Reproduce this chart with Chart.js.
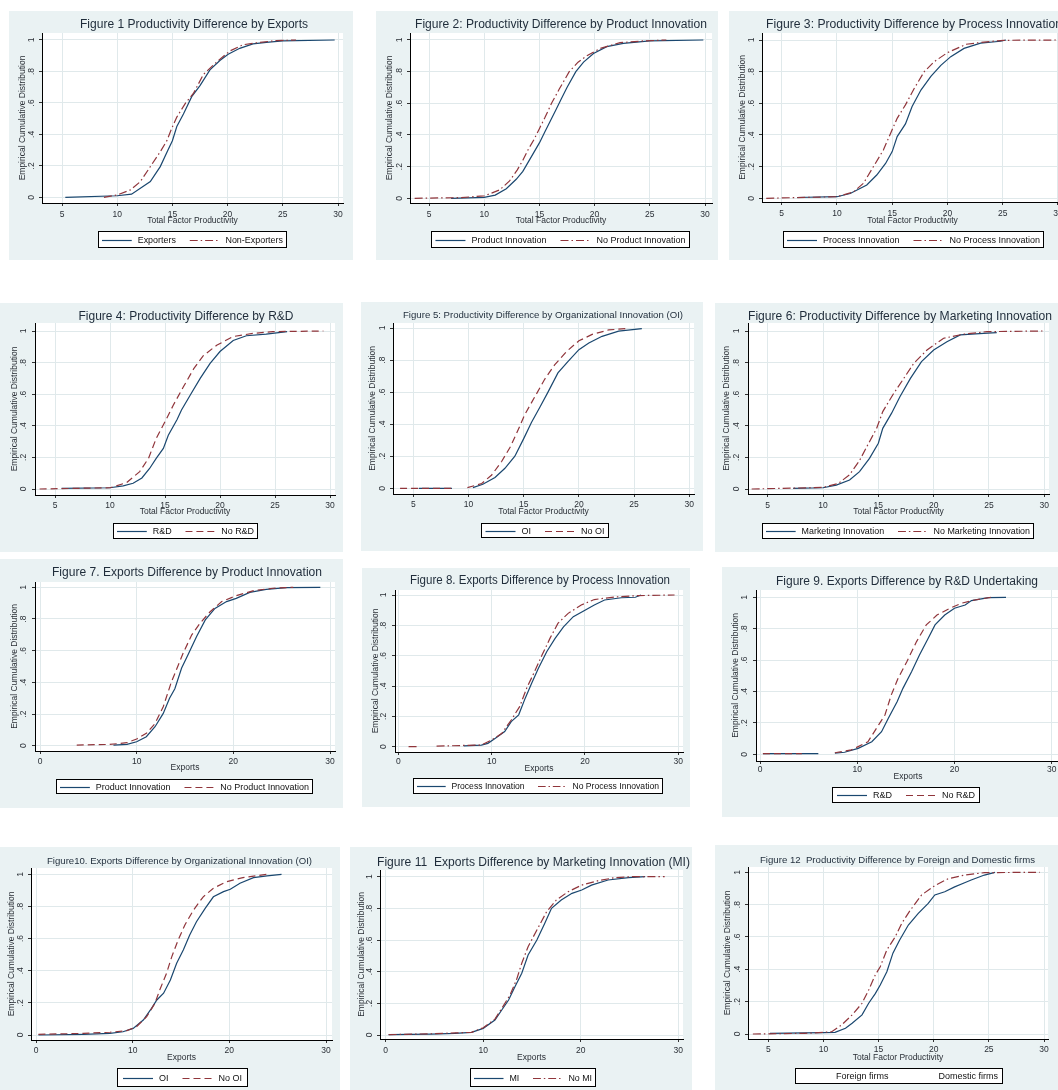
<!DOCTYPE html>
<html>
<head>
<meta charset="utf-8">
<script src="https://cdn.jsdelivr.net/npm/chart.js@4.4.1/dist/chart.umd.min.js"></script>
<style>
  html, body { margin: 0; padding: 0; background: #fff; width: 1058px; height: 1090px; overflow: hidden; position: relative; }
  .panel { position: absolute; background: #eaf2f3; }
  .panel canvas { display: block; }
</style>
</head>
<body>
<script>
// ── Empirical CDF curves as [x, F(x)] points ──
// a null F marks a visible break in a line
const fig1Exporters = [[5.3,0],[10,0.01],[11.3,0.02],[13,0.10],[13.9,0.195],[14.6,0.30],[15,0.36],[15.4,0.45],[16,0.53],[16.75,0.64],[17.5,0.71],[18.4,0.81],[19.3,0.87],[20.05,0.91],[21.1,0.947],[22.3,0.975],[23.5,0.985],[25,0.994],[29.7,1]];
const fig1NonExporters = [[8.8,0],[10,0.015],[11.2,0.047],[12.1,0.10],[13,0.195],[13.9,0.29],[14.5,0.36],[14.95,0.44],[15.4,0.51],[16.2,0.60],[16.9,0.66],[17.8,0.78],[19,0.86],[20.2,0.93],[21.4,0.97],[22.9,0.985],[24.4,0.996],[26.2,1]];

const fig2Product = [[7.0,0],[10,0.006],[11,0.02],[12,0.06],[12.9,0.12],[13.5,0.17],[14.0,0.23],[14.5,0.29],[15.0,0.35],[15.5,0.42],[16.0,0.49],[16.5,0.56],[17.0,0.63],[17.5,0.70],[18.3,0.80],[19.0,0.86],[19.9,0.915],[21.1,0.958],[22.6,0.979],[25,0.994],[29.85,1]];
const fig2NoProduct = [[3.7,0],[7.8,0.004],[10,0.015],[11.4,0.053],[12.3,0.11],[13.0,0.18],[13.5,0.24],[14.0,0.31],[14.5,0.37],[15.0,0.44],[15.5,0.51],[16.1,0.60],[16.8,0.69],[17.7,0.80],[18.5,0.86],[19.3,0.90],[20.5,0.947],[22.3,0.983],[24.4,0.994],[26.5,1]];

const fig3Process = [[6.4,0.005],[10,0.01],[11.2,0.03],[12.7,0.084],[13.6,0.147],[14.4,0.22],[15,0.295],[15.45,0.39],[16.2,0.47],[16.8,0.58],[17.6,0.684],[18.5,0.77],[19.4,0.84],[20.3,0.895],[21.5,0.947],[23,0.98],[24.8,0.992],[25.3,1]];
const fig3NoProcess = [[3.6,0],[10,0.01],[11.5,0.04],[12.4,0.095],[13.3,0.2],[14.2,0.305],[14.85,0.41],[15.45,0.505],[16.2,0.59],[17,0.695],[17.9,0.8],[18.8,0.863],[20,0.92],[21.7,0.973],[23.3,0.987],[25.1,0.998],[30,1]];

const fig4RD = [[5.6,0.004],[10,0.008],[11.2,0.02],[12.1,0.036],[12.9,0.07],[13.6,0.13],[14.2,0.194],[14.85,0.257],[15.3,0.34],[16.1,0.44],[16.5,0.5],[17.3,0.595],[18.2,0.70],[19.1,0.795],[20,0.87],[21.2,0.94],[22.4,0.97],[24.2,0.98],[26.1,0.996]];
const fig4NoRD = [[3.6,0],[10,0.008],[11.5,0.04],[12.7,0.11],[13.5,0.194],[14.2,0.32],[15,0.426],[15.75,0.53],[16.7,0.65],[17.6,0.76],[18.5,0.845],[19.7,0.91],[21.2,0.965],[23,0.985],[24.8,0.996],[29.4,1]];

const fig5OI = [[5.5,0],[8.5,0],[9.2,null],[10.4,0.004],[11.3,0.025],[12.4,0.067],[13.3,0.125],[14.2,0.2],[15,0.31],[15.7,0.41],[16.5,0.51],[17.2,0.60],[18.1,0.72],[19,0.79],[20,0.865],[20.9,0.906],[22.1,0.948],[23.6,0.98],[25.7,0.996]];
const fig5NoOI = [[3.8,0],[8.5,0],[9.2,null],[9.9,0.004],[11.2,0.03],[12.1,0.083],[13,0.167],[13.8,0.26],[14.5,0.365],[15.1,0.46],[16,0.57],[16.9,0.68],[17.8,0.77],[18.9,0.855],[20,0.92],[21.2,0.96],[22.7,0.988],[24.2,0.996]];

const fig6Marketing = [[7.3,0.004],[10,0.008],[11.2,0.025],[12.4,0.057],[13.3,0.11],[14.2,0.194],[15,0.29],[15.4,0.384],[16.2,0.48],[16.95,0.584],[17.9,0.70],[18.9,0.806],[20,0.88],[21.2,0.932],[22.4,0.975],[24.5,0.985],[25.7,0.99]];
const fig6NoMarketing = [[3.55,0],[8.8,0.008],[10,0.01],[11.4,0.036],[12.4,0.09],[13.3,0.18],[14.05,0.28],[14.85,0.384],[15.4,0.49],[16.3,0.595],[17.3,0.70],[18.2,0.795],[19.4,0.88],[20.9,0.954],[22.7,0.98],[24.8,0.996],[29.9,1]];

const fig7Product = [[7.6,0.004],[9,0.008],[10,0.025],[11,0.057],[11.9,0.12],[12.75,0.204],[13.4,0.30],[13.95,0.36],[14.65,0.49],[15.3,0.573],[16.2,0.69],[17.1,0.794],[18.1,0.867],[19.3,0.91],[20.3,0.93],[21.7,0.968],[23.4,0.987],[25.5,0.998],[29,1]];
const fig7NoProduct = [[3.8,0.004],[7.2,0.008],[9,0.019],[10,0.042],[11,0.078],[11.9,0.14],[12.75,0.246],[13.6,0.404],[14.1,0.478],[14.8,0.583],[15.7,0.70],[16.55,0.773],[17.6,0.846],[18.8,0.91],[20.3,0.947],[22.1,0.979],[24.1,0.994],[26.2,1]];

const fig8Process = [[7,0.005],[8.9,0.01],[9.6,0.022],[10.4,0.055],[11.4,0.1],[12.1,0.165],[12.9,0.21],[13.6,0.32],[14.3,0.42],[15,0.516],[15.9,0.626],[16.8,0.714],[17.7,0.79],[18.75,0.857],[20,0.90],[21,0.934],[22.1,0.967],[23.9,0.982],[25.4,0.985],[26,1]];
const fig8NoProcess = [[1.1,0],[2,0],[3,null],[4.1,0.004],[8.9,0.011],[10,0.044],[11.1,0.088],[12.1,0.176],[13,0.264],[13.75,0.385],[14.6,0.495],[15.4,0.604],[16.25,0.714],[17.1,0.813],[18.2,0.879],[19.6,0.934],[21,0.97],[23.2,0.987],[25.7,0.996],[29.6,1]];

const fig9RD = [[0.3,0.004],[6,0.004],[6.8,null],[7.7,0.008],[8.7,0.013],[10.1,0.038],[11.5,0.08],[12.5,0.144],[13.2,0.23],[14.1,0.335],[14.7,0.42],[15.6,0.527],[16.4,0.633],[17.3,0.739],[18,0.824],[19,0.887],[20,0.93],[21.1,0.951],[21.75,0.979],[23.5,0.998],[25.3,1]];
const fig9NoRD = [[0.3,0.004],[4.3,0.004],[6,null],[7.7,0.01],[9.4,0.028],[10.1,0.049],[11.1,0.08],[12.2,0.187],[12.85,0.25],[13.5,0.378],[14.2,0.484],[15.1,0.59],[16.1,0.718],[17.1,0.824],[18.2,0.887],[19.4,0.926],[20.7,0.962],[22.1,0.983],[23.8,1]];

const fig10OI = [[0.25,0],[4.9,0.004],[7.65,0.01],[9,0.02],[10.05,0.041],[11.1,0.093],[11.95,0.166],[12.5,0.218],[13.2,0.26],[13.9,0.342],[14.55,0.446],[15.25,0.53],[15.9,0.622],[16.6,0.705],[17.5,0.788],[18.35,0.86],[19.4,0.892],[20.1,0.907],[21.1,0.944],[22.5,0.979],[23.9,0.99],[25.4,1]];
const fig10NoOI = [[0.25,0.004],[4.9,0.01],[7.65,0.017],[9.4,0.027],[10.4,0.052],[11.45,0.114],[12.3,0.197],[12.8,0.28],[13.5,0.384],[14.05,0.488],[14.7,0.59],[15.4,0.685],[16.3,0.778],[17.3,0.86],[18.35,0.913],[19.7,0.954],[21.4,0.979],[23.9,1]];

const fig11MI = [[0.3,0.002],[4.7,0.006],[7.1,0.01],[8.8,0.017],[10,0.042],[11.2,0.095],[11.9,0.158],[12.6,0.221],[13.25,0.305],[13.95,0.39],[14.6,0.505],[15.5,0.6],[16.3,0.705],[17,0.8],[18,0.853],[19.1,0.895],[20.1,0.916],[21.1,0.947],[22.8,0.979],[24.9,0.994],[26.6,1]];
const fig11NoMI = [[0.3,0.002],[4.7,0.008],[7.1,0.013],[8.8,0.017],[10,0.046],[11.2,0.1],[11.9,0.168],[12.75,0.253],[13.4,0.347],[13.95,0.453],[14.6,0.558],[15.5,0.663],[16.5,0.779],[17.5,0.853],[18.7,0.905],[20.1,0.947],[21.8,0.975],[23.5,0.994],[25.3,1],[28.6,1]];

const fig12Foreign = [[5.15,0.004],[10,0.008],[11.05,0.01],[12,0.035],[12.6,0.066],[13.5,0.118],[14.1,0.19],[14.7,0.25],[15.15,0.303],[15.75,0.385],[16.3,0.5],[16.9,0.58],[17.7,0.674],[18.6,0.746],[19.5,0.808],[20.1,0.86],[21,0.88],[21.9,0.91],[22.8,0.935],[23.4,0.952],[24.6,0.983],[25.55,1]];
const fig12Domestic = [[3.6,0],[8.3,0.004],[10,0.01],[10.75,0.014],[11.65,0.056],[12.6,0.118],[13.5,0.19],[14.1,0.272],[14.7,0.365],[15.15,0.416],[15.75,0.52],[16.5,0.6],[17.1,0.684],[17.85,0.763],[18.9,0.86],[20.1,0.918],[21.3,0.96],[22.8,0.983],[24.6,0.998],[29.6,1]];

// ── Axis ticks ──
const tfpTicks = [5, 10, 15, 20, 25, 30];
const exportTicks = [0, 10, 20, 30];
const cdfTicks = [0, 0.2, 0.4, 0.6, 0.8, 1];
const cdfTickLabels = ['0', '.2', '.4', '.6', '.8', '1'];

// ── Style ──
const FONT = '"Liberation Sans", Arial, sans-serif';
const NAVY = '#1a476f';
const MAROON = '#90353b';
const GRID = '#e0e9eb';
const TEXT = '#2a2f36';
const DASH_DOT = [8, 3, 1.5, 3];
const LONG_DASH = [7, 4];
const TFP = 'Total Factor Productivity';
const EXP = 'Exports';
const AXIS_FONT = 8.5;
const LEGEND_FONT = 9;

Chart.defaults.font.family = FONT;

// Layout per panel (page px): box = background, area = white plot region,
// xCal/yCal pin two data values to pixel positions.
const panels = [
  { box: [9, 11, 344, 249], area: [42, 33, 343, 203], xCal: [5, 62, 30, 338], yCal: [197.3, 40], xTicks: tfpTicks,
    title: 'Figure 1 Productivity Difference by Exports', titleSize: 12, titleW: 228, titleX: 194, titleY: 25,
    yTitleX: 23, yLabX: 32, xLabY: 215, xTitle: TFP, xTitleY: 221, legend: [98, 231, 287, 248],
    names: ['Exporters', 'Non-Exporters'], series: [fig1Exporters, fig1NonExporters], dash: DASH_DOT },
  { box: [376, 11, 342, 249], area: [410, 33, 712, 203], xCal: [5, 429, 30, 705], yCal: [198.3, 40], xTicks: tfpTicks,
    title: 'Figure 2: Productivity Difference by Product Innovation', titleSize: 12, titleW: 292, titleX: 561, titleY: 25,
    yTitleX: 390, yLabX: 400, xLabY: 215, xTitle: TFP, xTitleY: 221, legend: [431, 231, 690, 248],
    names: ['Product Innovation', 'No Product Innovation'], series: [fig2Product, fig2NoProduct], dash: DASH_DOT },
  { box: [729, 11, 350, 249], area: [762, 33, 1063, 202], xCal: [5, 781.7, 25, 1002.7], yCal: [198.3, 40], xTicks: tfpTicks,
    title: 'Figure 3: Productivity Difference by Process Innovation', titleSize: 12, titleW: 296, titleX: 914, titleY: 25,
    yTitleX: 743, yLabX: 752, xLabY: 214, xTitle: TFP, xTitleY: 221, legend: [783, 231, 1044, 248],
    names: ['Process Innovation', 'No Process Innovation'], series: [fig3Process, fig3NoProcess], dash: DASH_DOT },
  { box: [0, 303, 343, 249], area: [35, 323, 335, 495], xCal: [5, 55, 30, 330], yCal: [489, 331], xTicks: tfpTicks,
    title: 'Figure 4: Productivity Difference by R&D', titleSize: 12, titleW: 215, titleX: 186, titleY: 317,
    yTitleX: 15, yLabX: 24, xLabY: 506, xTitle: TFP, xTitleY: 512, legend: [113, 523, 258, 539],
    names: ['R&D', 'No R&D'], series: [fig4RD, fig4NoRD], dash: LONG_DASH },
  { box: [361, 302, 342, 249], area: [393, 323, 694, 494], xCal: [5, 413.3, 30, 689.3], yCal: [488.3, 328], xTicks: tfpTicks,
    title: 'Figure 5: Productivity Difference by Organizational Innovation (OI)', titleSize: 9.5, titleW: 280, titleX: 543, titleY: 315,
    yTitleX: 373, yLabX: 383, xLabY: 505, xTitle: TFP, xTitleY: 512, legend: [481, 523, 609, 538],
    names: ['OI', 'No OI'], series: [fig5OI, fig5NoOI], dash: LONG_DASH },
  { box: [715, 303, 360, 249], area: [748, 323, 1049, 494], xCal: [5, 767.7, 30, 1044.3], yCal: [489, 331], xTicks: tfpTicks,
    title: 'Figure 6: Productivity Difference by Marketing Innovation', titleSize: 12, titleW: 304, titleX: 900, titleY: 317,
    yTitleX: 727, yLabX: 737, xLabY: 506, xTitle: TFP, xTitleY: 512, legend: [762, 523, 1034, 539],
    names: ['Marketing Innovation', 'No Marketing Innovation'], series: [fig6Marketing, fig6NoMarketing], dash: DASH_DOT },
  { box: [0, 559, 343, 249], area: [35, 582, 335, 751], xCal: [0, 40, 30, 330], yCal: [745.7, 587.3], xTicks: exportTicks,
    title: 'Figure 7. Exports Difference by Product Innovation', titleSize: 12, titleW: 270, titleX: 187, titleY: 573,
    yTitleX: 15, yLabX: 24, xLabY: 762, xTitle: EXP, xTitleY: 768, legend: [56, 779, 313, 794],
    names: ['Product Innovation', 'No Product Innovation'], series: [fig7Product, fig7NoProduct], dash: LONG_DASH },
  { box: [362, 568, 328, 239], area: [395, 590, 683, 752], xCal: [0, 398.3, 30, 678.3], yCal: [746.7, 595], xTicks: exportTicks,
    title: 'Figure 8. Exports Difference by Process Innovation', titleSize: 12, titleW: 260, titleX: 540, titleY: 581,
    yTitleX: 376, yLabX: 384, xLabY: 762, xTitle: EXP, xTitleY: 769, legend: [413, 778, 663, 794],
    names: ['Process Innovation', 'No Process Innovation'], series: [fig8Process, fig8NoProcess], dash: DASH_DOT },
  { box: [722, 567, 350, 250], area: [756, 590, 1060, 761], xCal: [0, 760, 30, 1051.7], yCal: [754.3, 597.3], xTicks: exportTicks,
    title: 'Figure 9. Exports Difference by R&D Undertaking', titleSize: 12, titleW: 262, titleX: 907, titleY: 582,
    yTitleX: 736, yLabX: 745, xLabY: 770, xTitle: EXP, xTitleY: 777, legend: [832, 787, 980, 803],
    names: ['R&D', 'No R&D'], series: [fig9RD, fig9NoRD], dash: LONG_DASH },
  { box: [0, 847, 340, 250], area: [31, 868, 332, 1040], xCal: [0, 36, 30, 326], yCal: [1035, 874.3], xTicks: exportTicks,
    title: 'Figure10. Exports Difference by Organizational Innovation (OI)', titleSize: 9.5, titleW: 265, titleX: 179.5, titleY: 861,
    yTitleX: 12, yLabX: 21, xLabY: 1051, xTitle: EXP, xTitleY: 1058, legend: [117, 1068, 248, 1087],
    names: ['OI', 'No OI'], series: [fig10OI, fig10NoOI], dash: LONG_DASH },
  { box: [350, 847, 342, 250], area: [380, 870, 683, 1039], xCal: [0, 385.7, 30, 678.3], yCal: [1035, 876.7], xTicks: exportTicks,
    title: 'Figure 11  Exports Difference by Marketing Innovation (MI)', titleSize: 12, titleW: 313, titleX: 533.5, titleY: 863,
    yTitleX: 362, yLabX: 370, xLabY: 1051, xTitle: EXP, xTitleY: 1058, legend: [470, 1068, 596, 1087],
    names: ['MI', 'No MI'], series: [fig11MI, fig11NoMI], dash: DASH_DOT },
  { box: [715, 845, 360, 250], area: [748, 867, 1048, 1039], xCal: [5, 768.3, 30, 1044], yCal: [1034, 872.3], xTicks: tfpTicks,
    title: 'Figure 12  Productivity Difference by Foreign and Domestic firms', titleSize: 9.5, titleW: 275, titleX: 897.5, titleY: 860,
    yTitleX: 728, yLabX: 738, xLabY: 1050, xTitle: TFP, xTitleY: 1058, legend: [795, 1068, 1003, 1084],
    names: ['Foreign firms', 'Domestic firms'], series: [fig12Foreign, fig12Domestic], dash: DASH_DOT, legendLines: false },
];

function stataDecor(p) {
  const [bx, by] = p.box;
  return {
    id: 'stataDecor',
    beforeDraw(chart) {
      const { ctx, chartArea: a } = chart;
      ctx.save();
      ctx.fillStyle = '#fff';
      ctx.fillRect(a.left, a.top, a.right - a.left, a.bottom - a.top);
      ctx.restore();
    },
    afterDraw(chart) {
      const ctx = chart.ctx;
      ctx.save();
      ctx.fillStyle = TEXT;
      ctx.textBaseline = 'middle';

      // title, squeezed to the width it has in the figure
      ctx.font = `${p.titleSize}px ${FONT}`;
      const tw = ctx.measureText(p.title).width;
      ctx.save();
      ctx.translate(p.titleX - bx, p.titleY - by);
      ctx.scale(p.titleW / tw, 1);
      ctx.textAlign = 'center';
      ctx.fillStyle = '#1f2c3a';
      ctx.fillText(p.title, 0, 0);
      ctx.restore();

      // vertical y tick labels, Stata style
      const ys = chart.scales.y;
      ctx.font = `${AXIS_FONT}px ${FONT}`;
      ctx.textAlign = 'center';
      cdfTicks.forEach((v, i) => {
        ctx.save();
        ctx.translate(p.yLabX - bx, ys.getPixelForValue(v));
        ctx.rotate(-Math.PI / 2);
        ctx.fillText(cdfTickLabels[i], 0, 0);
        ctx.restore();
      });

      // legend box
      const L = p.legend[0] - bx, T = p.legend[1] - by, R = p.legend[2] - bx, B = p.legend[3] - by;
      ctx.fillStyle = '#fff';
      ctx.fillRect(L, T, R - L, B - T);
      ctx.strokeStyle = '#000';
      ctx.lineWidth = 1;
      ctx.strokeRect(L + 0.5, T + 0.5, R - L - 1, B - T - 1);
      ctx.font = `${LEGEND_FONT}px ${FONT}`;
      const sw = 30, g1 = 6, g2 = 14;
      const widths = p.names.map(n => ctx.measureText(n).width);
      const total = widths.reduce((s, w) => s + sw + g1 + w, 0) + g2 * (p.names.length - 1);
      const k = Math.min(1, (R - L - 8) / total); // squeeze to fit the box
      const cy = Math.round((T + B) / 2) + 0.5;
      ctx.translate((L + R) / 2, 0);
      ctx.scale(k, 1);
      let x = -total / 2;
      ctx.textAlign = 'left';
      p.names.forEach((n, i) => {
        if (p.legendLines !== false) {
          ctx.beginPath();
          ctx.strokeStyle = i ? MAROON : NAVY;
          ctx.lineWidth = 1.2;
          ctx.setLineDash(i ? p.dash : []);
          ctx.moveTo(x, cy);
          ctx.lineTo(x + sw, cy);
          ctx.stroke();
          ctx.setLineDash([]);
        }
        x += sw + g1;
        ctx.fillStyle = '#111';
        ctx.fillText(n, x, cy);
        x += widths[i] + g2;
      });
      ctx.restore();
    },
  };
}

function makePanel(p) {
  const [bx, by, bw, bh] = p.box;
  const [al, at, ar, ab] = p.area;
  const div = document.createElement('div');
  div.className = 'panel';
  div.style.cssText = `left:${bx}px;top:${by}px;width:${bw}px;height:${bh}px`;
  const cv = document.createElement('canvas');
  cv.width = bw;
  cv.height = bh;
  div.appendChild(cv);
  document.body.appendChild(div);

  const lh = AXIS_FONT * 1.2;
  const padLeft = p.yTitleX - bx - lh / 2;
  const yAxisW = al - bx - padLeft;
  const xAxisH = p.xTitleY + lh / 2 - ab;
  const padBottom = by + bh - ab - xAxisH;

  const [x0, px0, x1, px1] = p.xCal;
  const ux = (x1 - x0) / (px1 - px0);
  const uy = 1 / (p.yCal[0] - p.yCal[1]);

  const axisCommon = {
    grid: { color: GRID, tickColor: '#333', tickLength: 3, lineWidth: 1 },
    border: { color: '#000', width: 1 },
  };

  new Chart(cv, {
    type: 'line',
    data: {
      datasets: p.series.map((s, i) => ({
        label: p.names[i],
        data: s.map(([x, y]) => ({ x, y })),
        borderColor: i ? MAROON : NAVY,
        borderWidth: 1.2,
        borderDash: i ? p.dash : [],
        pointRadius: 0,
        tension: 0,
        spanGaps: false,
        order: i ? 0 : 1,
      })),
    },
    options: {
      responsive: false,
      animation: false,
      events: [],
      layout: { padding: { left: padLeft, top: at - by, right: bx + bw - ar, bottom: padBottom } },
      plugins: { legend: { display: false }, title: { display: false }, tooltip: { enabled: false } },
      scales: {
        x: {
          ...axisCommon,
          type: 'linear',
          min: x0 + (al - px0) * ux,
          max: x0 + (ar - px0) * ux,
          afterBuildTicks: a => { a.ticks = p.xTicks.map(v => ({ value: v })); },
          afterFit: a => { a.height = xAxisH; },
          ticks: { autoSkip: false, minRotation: 0, maxRotation: 0, padding: p.xLabY - ab - 3 - lh / 2, font: { size: AXIS_FONT }, color: TEXT },
          title: { display: true, text: p.xTitle, font: { size: AXIS_FONT }, color: TEXT, padding: 0 },
        },
        y: {
          ...axisCommon,
          type: 'linear',
          min: (p.yCal[0] - ab) * uy,
          max: (p.yCal[0] - at) * uy,
          afterBuildTicks: a => { a.ticks = cdfTicks.map(v => ({ value: v })); },
          afterFit: a => { a.width = yAxisW; },
          ticks: { display: false },
          title: { display: true, text: 'Empirical Cumulative Distribution', font: { size: AXIS_FONT }, color: TEXT, padding: 0 },
        },
      },
    },
    plugins: [stataDecor(p)],
  });
}

panels.forEach(makePanel);
</script>
</body>
</html>
